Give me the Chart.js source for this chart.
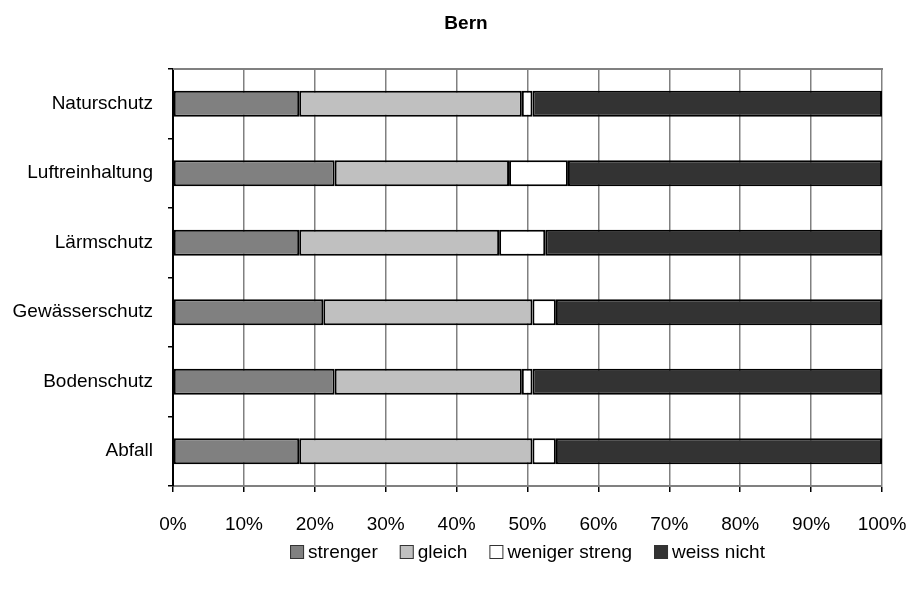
<!DOCTYPE html>
<html>
<head>
<meta charset="utf-8">
<script src="https://cdn.jsdelivr.net/npm/chart.js@4/dist/chart.umd.min.js"></script>
<style>
  html, body { margin: 0; padding: 0; background: #fff; }
  #wrap { width: 908px; height: 594px; }
</style>
</head>
<body>
<div id="wrap"><canvas id="c" width="908" height="594"></canvas></div>
<script>
// Bereiche (oben nach unten) und Antwortanteile in Prozent
const categories = ['Naturschutz', 'Luftreinhaltung', 'Lärmschutz', 'Gewässerschutz', 'Bodenschutz', 'Abfall'];
const strenger      = [17.8, 22.8, 17.8, 21.2, 22.8, 17.8];
const gleich        = [31.4, 24.6, 28.2, 29.5, 26.4, 32.9];
const wenigerStreng = [1.5, 8.3, 6.5, 3.3, 1.5, 3.3];
const weissNicht    = [49.3, 44.3, 47.5, 46.0, 49.3, 46.0];

const seriesNames  = ['strenger', 'gleich', 'weniger streng', 'weiss nicht'];
const seriesColors = ['#808080', '#c0c0c0', '#ffffff', '#333333'];
const seriesValues = [strenger, gleich, wenigerStreng, weissNicht];
const chartTitle = 'Bern';

const FONT = '"Liberation Sans", Arial, sans-serif';

// Titel und oberer Rahmen der Zeichenfläche
const frameAndTitle = {
  id: 'frameAndTitle',
  beforeDatasetsDraw(chart) {
    const { ctx, chartArea: a } = chart;
    ctx.save();
    ctx.strokeStyle = '#808080';
    ctx.lineWidth = 2;
    ctx.beginPath();
    ctx.moveTo(a.left, a.top);
    ctx.lineTo(a.right + 1, a.top);
    ctx.stroke();
    ctx.restore();
  },
  afterDraw(chart) {
    const { ctx } = chart;
    ctx.save();
    ctx.font = 'bold 19px ' + FONT;
    ctx.fillStyle = '#000';
    ctx.textAlign = 'center';
    ctx.textBaseline = 'middle';
    ctx.fillText(chartTitle, 466, 24);
    ctx.restore();
  }
};

// Legende unten, kompakt mit kleinen Kästchen
const bottomLegend = {
  id: 'bottomLegend',
  afterDraw(chart) {
    const { ctx } = chart;
    const box = 14, gap = 4, spacing = 22, cy = 552;
    ctx.save();
    ctx.font = '19px ' + FONT;
    ctx.textBaseline = 'middle';
    const items = chart.data.datasets.map(ds => ({
      text: ds.label, color: ds.backgroundColor, w: ctx.measureText(ds.label).width
    }));
    const total = items.reduce((s, it) => s + box + gap + it.w, 0) + spacing * (items.length - 1);
    let x = (chart.chartArea.left + chart.chartArea.right) / 2 - total / 2;
    items.forEach(it => {
      ctx.fillStyle = it.color;
      ctx.fillRect(x, cy - box / 2, box, box);
      ctx.strokeStyle = '#333';
      ctx.lineWidth = 1;
      ctx.strokeRect(x + 0.5, cy - box / 2 + 0.5, box - 1, box - 1);
      ctx.fillStyle = '#000';
      ctx.fillText(it.text, x + box + gap, cy + 1);
      x += box + gap + it.w + spacing;
    });
    ctx.restore();
  }
};

new Chart(document.getElementById('c'), {
  type: 'bar',
  data: {
    labels: categories,
    datasets: seriesNames.map((name, i) => ({
      label: name,
      data: seriesValues[i],
      backgroundColor: seriesColors[i],
      borderColor: '#000',
      borderWidth: 2,
      borderSkipped: false,
      categoryPercentage: 1,
      barPercentage: 0.375
    }))
  },
  options: {
    indexAxis: 'y',
    responsive: false,
    animation: false,
    layout: { padding: { left: 0, right: 26, top: 69, bottom: 0 } },
    plugins: {
      legend: { display: false },
      tooltip: { enabled: false },
      title: { display: false }
    },
    scales: {
      x: {
        stacked: true,
        min: 0,
        max: 100,
        afterFit(s) { s.height = 108; s.paddingLeft = 0; s.paddingRight = 0; },
        ticks: {
          stepSize: 10,
          color: '#000',
          padding: 21,
          font: { family: FONT, size: 19 },
          callback: v => v + '%'
        },
        grid: {
          color: '#808080',
          lineWidth: 1.5,
          drawTicks: true,
          tickLength: 6,
          tickColor: '#000'
        },
        border: { color: '#808080', width: 2 }
      },
      y: {
        stacked: true,
        afterFit(s) { s.width = 173; s.paddingTop = 0; s.paddingBottom = 0; },
        ticks: {
          color: '#000',
          padding: 15,
          font: { family: FONT, size: 19 }
        },
        grid: {
          offset: true,
          drawOnChartArea: false,
          drawTicks: true,
          tickLength: 5,
          color: '#000',
          lineWidth: 1.5
        },
        border: { color: '#000', width: 2 }
      }
    }
  },
  plugins: [frameAndTitle, bottomLegend]
});
</script>
</body>
</html>
